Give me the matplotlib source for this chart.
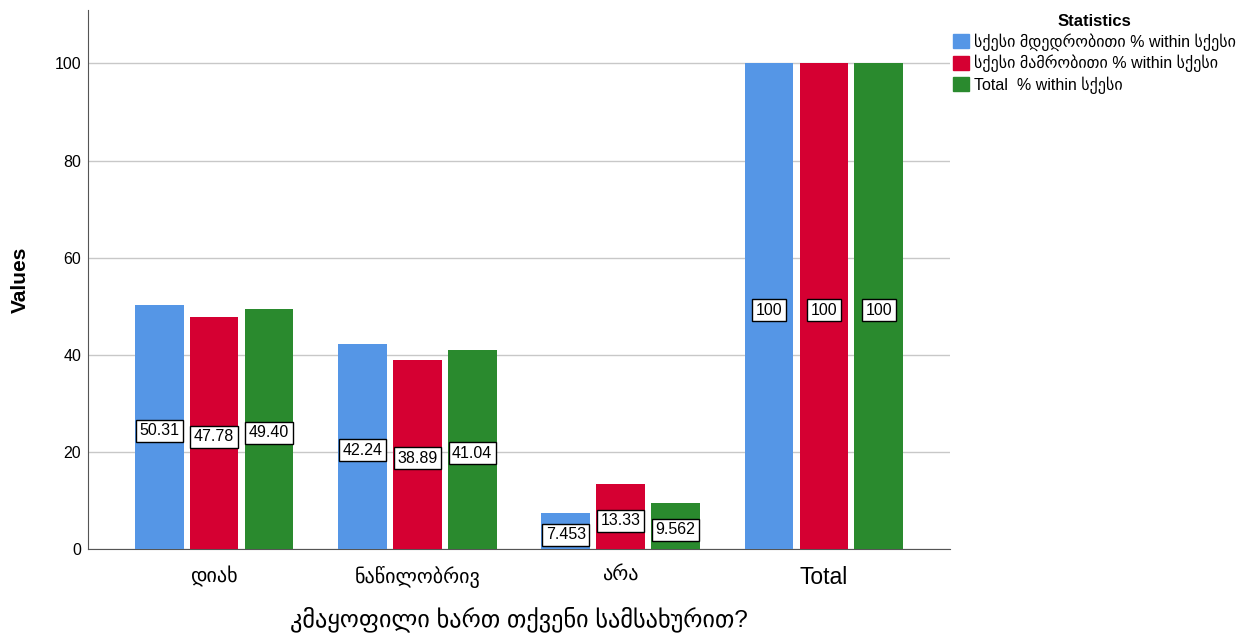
import numpy as np
import matplotlib
matplotlib.use('Agg')
import matplotlib.pyplot as plt
from matplotlib.patches import Patch

plt.rcParams['font.family'] = ['Liberation Sans', 'DejaVu Sans']

categories = ['დიახ', 'ნაწილობრივ', 'არა', 'Total']
series_names = ['სქესი მდედრობითი % within სქესი',
                'სქესი მამრობითი % within სქესი',
                'Total  % within სქესი']
female = [50.31, 42.24, 7.453, 100]
male = [47.78, 38.89, 13.33, 100]
total = [49.40, 41.04, 9.562, 100]
labels_female = ['50.31', '42.24', '7.453', '100']
labels_male = ['47.78', '38.89', '13.33', '100']
labels_total = ['49.40', '41.04', '9.562', '100']
colors = ['#5596E6', '#D50032', '#2A8A2E']

fig = plt.figure(figsize=(12.59, 6.37), dpi=100)
ax = fig.add_axes([88 / 1259, 1 - 549 / 637, (950 - 88) / 1259, (549 - 10) / 637])

x = np.arange(len(categories))
width = 0.24
step = 0.27
for i, (vals, labs, c) in enumerate(zip([female, male, total],
                                        [labels_female, labels_male, labels_total], colors)):
    pos = x + (i - 1) * step
    ax.bar(pos, vals, width=width, color=c, zorder=3)
    for px, v, lab in zip(pos, vals, labs):
        # value boxes sit a little below mid-height, never under the baseline
        ax.text(px, max(v / 2 - 0.8, 2.9), lab, ha='center', va='center', fontsize=11.5,
                zorder=4, bbox=dict(boxstyle='square,pad=0.22', fc='white', ec='black', lw=1))

ax.set_xlim(-0.62, 3.62)
ax.set_ylim(0, 111)
ax.set_yticks([0, 20, 40, 60, 80, 100])
ax.yaxis.grid(True, color='#C8C8C8', lw=1, zorder=0)
ax.set_xticks(x)
ax.set_xticklabels(categories, fontsize=14.5)
ax.get_xticklabels()[-1].set_fontsize(16.5)
ax.tick_params(axis='y', labelsize=11.5, length=0, pad=5)
ax.tick_params(axis='x', length=0, pad=12)
for s in ['top', 'right']:
    ax.spines[s].set_visible(False)
for s in ['left', 'bottom']:
    ax.spines[s].set_color('#555555')

ax.set_ylabel('Values', fontsize=15, fontweight='bold', va='center')
ax.yaxis.set_label_coords(-0.078, 0.5)
ax.set_xlabel('კმაყოფილი ხართ თქვენი სამსახურით?', fontsize=17.5, va='center')
ax.xaxis.set_label_coords(0.5, -0.13)

handles = [Patch(color=c) for c in colors]
leg = fig.legend(handles, series_names, loc='upper left', bbox_to_anchor=(953 / 1259, 1 - 14 / 637),
                 title='Statistics', frameon=False, fontsize=11.5, handlelength=1.0,
                 handleheight=1.0, handletextpad=0.3, labelspacing=0.25, borderaxespad=0,
                 borderpad=0)
leg.get_title().set_fontweight('bold')
leg.get_title().set_fontsize(12)

fig.savefig('out.png', dpi=100)
